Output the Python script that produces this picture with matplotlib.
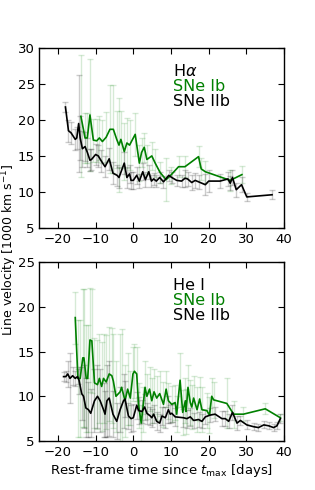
import matplotlib
matplotlib.use("Agg")
import matplotlib.pyplot as plt

# H-alpha, SNe IIb (black)
ha_iib_t = [-18.0, -17.2, -16.5, -15.4, -15.0, -14.5, -14.1, -13.5, -12.8, -12.2,
            -11.5, -11.1, -10.0, -9.3, -8.5, -7.5, -6.4, -5.4, -4.3, -3.8,
            -2.4, -1.7, -1.0, -0.6, 0.0, 0.9, 1.6, 2.5, 3.2, 4.1,
            4.8, 5.4, 6.1, 7.0, 8.0, 9.4, 10.2, 11.5, 12.8, 13.7,
            14.4, 15.5, 16.4, 17.3, 19.1, 20.0, 23.0, 25.1, 25.7, 26.3,
            27.3, 28.7, 30.1, 36.8]
ha_iib_v = [21.8, 18.5, 18.2, 17.3, 17.5, 19.5, 17.5, 16.0, 16.3, 15.5,
            14.4, 14.5, 15.2, 15.0, 14.3, 13.5, 14.6, 12.6, 12.3, 12.0,
            14.0, 12.0, 12.5, 11.6, 11.6, 12.3, 11.5, 12.8, 11.7, 12.8,
            11.5, 11.8, 11.5, 12.0, 11.4, 12.3, 12.0, 11.6, 11.5, 11.9,
            11.8, 11.3, 11.6, 11.4, 11.0, 11.5, 11.5, 11.8, 11.2, 12.0,
            10.3, 11.0, 9.3, 9.6]
ha_iib_e = [0.7, 1.5, 1.5, 1.5, 1.5, 6.7, 3.0, 2.5, 2.0, 2.0,
            1.5, 1.5, 1.5, 1.5, 1.5, 1.5, 1.5, 1.5, 1.5, 1.5,
            1.5, 1.5, 1.2, 1.2, 1.2, 1.2, 1.0, 1.2, 1.0, 1.0,
            0.8, 0.8, 0.8, 0.8, 0.8, 0.8, 0.8, 0.8, 0.8, 1.2,
            1.0, 1.0, 1.0, 1.0, 1.5, 1.5, 1.0, 1.0, 1.0, 1.0,
            1.0, 1.0, 0.5, 0.6]

# H-alpha, SNe Ib (green)
ha_ib_t = [-13.9, -12.8, -12.2, -11.5, -10.6, -9.7, -9.0, -8.2, -7.2, -6.2,
           -5.3, -4.4, -3.8, -3.3, -2.4, -1.7, -1.0, 0.5, 1.6, 2.2,
           2.9, 3.6, 4.9, 5.8, 7.1, 8.7, 9.9, 12.0, 13.7, 17.3,
           18.0, 19.1, 25.7, 28.8]
ha_ib_v = [20.5, 17.5, 17.5, 20.7, 17.2, 17.1, 17.5, 17.0, 17.6, 18.7,
           18.7, 17.3, 16.5, 17.3, 15.6, 16.8, 16.5, 18.0, 14.0, 15.5,
           16.2, 14.5, 15.0, 14.0, 12.7, 11.7, 12.3, 13.5, 13.5, 14.9,
           13.2, 12.8, 11.6, 12.4]
ha_ib_e = [8.5, 3.5, 3.5, 7.8, 3.0, 3.0, 3.0, 3.0, 3.5, 6.1,
           6.1, 4.0, 6.5, 4.0, 4.0, 3.5, 3.5, 3.0, 2.5, 2.0,
           2.0, 2.0, 2.0, 2.0, 1.5, 3.0, 1.2, 1.5, 1.5, 1.5,
           1.5, 1.5, 1.5, 1.2]

# He I, SNe IIb (black)
he_iib_t = [-18.5, -17.9, -17.4, -16.8, -16.1, -15.4, -14.8, -14.4, -13.7, -13.2,
            -12.6, -11.9, -11.3, -10.3, -9.5, -8.8, -7.9, -7.5, -7.0, -6.4,
            -5.4, -4.4, -3.5, -2.6, -2.2, -1.3, -0.6, 0.0, 0.9, 1.4,
            2.3, 3.0, 3.6, 4.5, 4.9, 5.4, 6.2, 7.0, 7.6, 8.5,
            9.3, 9.8, 10.2, 11.1, 13.3, 14.2, 15.1, 16.0, 17.3, 18.2,
            19.1, 20.4, 21.7, 23.5, 24.4, 25.3, 26.3, 27.5, 28.4, 30.1,
            31.9, 33.2, 34.6, 35.9, 37.2, 38.1, 39.0]
he_iib_v = [12.2, 12.2, 12.5, 12.0, 12.3, 12.0, 12.2, 11.8, 10.3, 10.0,
            8.7, 8.5, 8.1, 9.5, 10.0, 9.5, 8.5, 8.0, 9.5, 9.8,
            8.0, 7.2, 8.5, 9.5, 9.7, 7.8, 7.5, 7.6, 9.0, 8.4,
            8.3, 8.8, 8.1, 7.8, 7.6, 8.0, 7.2, 7.0, 7.8, 7.6,
            8.5, 8.0, 8.1, 7.7, 7.6, 7.5, 7.7, 7.3, 7.4, 7.2,
            7.7, 7.9, 8.0, 7.5, 7.5, 7.2, 8.2, 7.0, 7.3, 6.8,
            6.6, 6.5, 6.8, 6.7, 6.5, 6.7, 7.5]
he_iib_e = [0.5, 0.6, 1.5, 2.8, 1.0, 0.8, 0.8, 1.5, 3.0, 3.5,
            3.3, 3.1, 2.7, 3.5, 3.5, 3.5, 3.0, 2.6, 4.0, 4.2,
            2.6, 2.0, 2.5, 3.0, 2.0, 1.5, 1.5, 1.5, 1.5, 1.5,
            1.3, 1.5, 1.2, 1.0, 1.0, 1.0, 1.0, 1.0, 1.0, 1.2,
            1.5, 1.0, 1.0, 1.0, 1.0, 1.0, 1.0, 0.8, 0.8, 0.8,
            0.8, 0.8, 0.8, 0.8, 0.8, 0.8, 0.8, 0.8, 0.5, 0.5,
            0.4, 0.4, 0.4, 0.4, 0.4, 0.4, 0.5]

# He I, SNe Ib (green)
he_ib_t = [-15.4, -14.7, -14.1, -13.4, -13.1, -12.5, -12.1, -11.5, -11.0, -10.3,
           -9.5, -9.0, -8.4, -7.9, -7.2, -6.4, -5.7, -5.3, -4.6, -3.5,
           -3.1, -2.2, -1.5, -0.8, -0.1, 0.3, 0.9, 1.4, 2.1, 2.5,
           3.1, 3.6, 4.3, 4.9, 5.5, 6.2, 7.0, 8.0, 8.7, 9.3,
           10.2, 11.1, 11.5, 12.4, 13.1, 13.8, 14.0, 14.5, 15.1, 15.5,
           16.0, 16.9, 17.6, 18.2, 19.5, 20.2, 20.8, 21.3, 24.8, 26.6,
           29.2, 35.0, 39.0]
he_ib_v = [18.8, 12.0, 12.0, 14.3, 14.3, 12.0, 12.0, 16.3, 16.2, 11.5,
           11.3, 12.0, 11.1, 12.0, 11.6, 12.5, 12.3, 11.7, 10.0, 10.5,
           11.0, 9.5, 10.8, 9.8, 12.5, 12.8, 12.5, 9.0, 7.0, 8.5,
           11.0, 10.0, 10.8, 9.5, 10.5, 9.8, 10.3, 9.1, 10.8, 9.5,
           9.1, 9.3, 8.0, 11.8, 8.2, 9.5, 8.3, 11.0, 9.3, 8.8,
           9.8, 8.5, 9.7, 8.5, 8.4, 7.9, 10.0, 9.6, 9.2, 8.0,
           8.0, 8.6, 7.6]
he_ib_e = [2.9, 6.5, 6.5, 7.7, 7.7, 6.0, 6.0, 5.8, 5.8, 5.0,
           5.0, 5.0, 5.0, 5.0, 5.3, 5.3, 5.3, 5.3, 4.0, 6.5,
           6.5, 4.0, 4.0, 3.0, 3.0, 3.0, 3.0, 2.5, 2.0, 2.5,
           3.0, 2.5, 2.5, 2.5, 2.5, 2.5, 2.5, 2.5, 2.0, 2.0,
           2.0, 2.0, 2.0, 3.0, 2.5, 2.5, 2.5, 2.5, 2.5, 2.5,
           2.5, 2.5, 2.5, 2.5, 2.0, 2.0, 2.0, 2.0, 2.8, 1.5,
           0.8, 0.6, 0.4]

GREEN = "green"


def draw_panel(ax, ib, iib, line_label, ylim, yticks):
    for (t, v, e), ecol in ((ib, (0.0, 0.5, 0.0, 0.16)),
                            (iib, (0.0, 0.0, 0.0, 0.2))):
        ax.errorbar(t, v, yerr=e, fmt="none", ecolor=ecol, elinewidth=1,
                    capsize=2.5, capthick=1)
    ax.plot(ib[0], ib[1], color=GREEN, lw=1.2)
    ax.plot(iib[0], iib[1], color="black", lw=1.2)
    ax.set_xlim(-25, 40)
    ax.set_ylim(*ylim)
    ax.set_yticks(yticks)
    ax.set_xticks([-20, -10, 0, 10, 20, 30, 40])
    ax.tick_params(direction="in", top=True, right=True, labelsize=9.5,
                   length=4, width=0.8)
    ax.tick_params(axis="y", pad=3)
    for s in ax.spines.values():
        s.set_linewidth(1.0)
    # labels stacked like a legend, top right
    ax.text(0.545, 0.87, line_label, transform=ax.transAxes, fontsize=11.5,
            color="black", va="center")
    ax.text(0.545, 0.785, "SNe Ib", transform=ax.transAxes, fontsize=11.5,
            color=GREEN, va="center")
    ax.text(0.545, 0.70, "SNe IIb", transform=ax.transAxes, fontsize=11.5,
            color="black", va="center")


fig = plt.figure(figsize=(3.15, 4.9), dpi=100)
ax1 = fig.add_axes([0.124, 0.535, 0.778, 0.367])
ax2 = fig.add_axes([0.124, 0.100, 0.778, 0.365])

draw_panel(ax1, (ha_ib_t, ha_ib_v, ha_ib_e), (ha_iib_t, ha_iib_v, ha_iib_e),
           r"H$\alpha$", (5, 30), [5, 10, 15, 20, 25, 30])
draw_panel(ax2, (he_ib_t, he_ib_v, he_ib_e), (he_iib_t, he_iib_v, he_iib_e),
           "He I", (5, 25), [5, 10, 15, 20, 25])

ax2.set_xlabel(r"Rest-frame time since $t_{\rm max}$ [days]", fontsize=9.5,
               labelpad=2)
fig.text(0.028, 0.49, r"Line velocity [1000 km s$^{-1}$]", rotation=90,
         ha="center", va="center", fontsize=9)

fig.savefig("out.png", dpi=100)
